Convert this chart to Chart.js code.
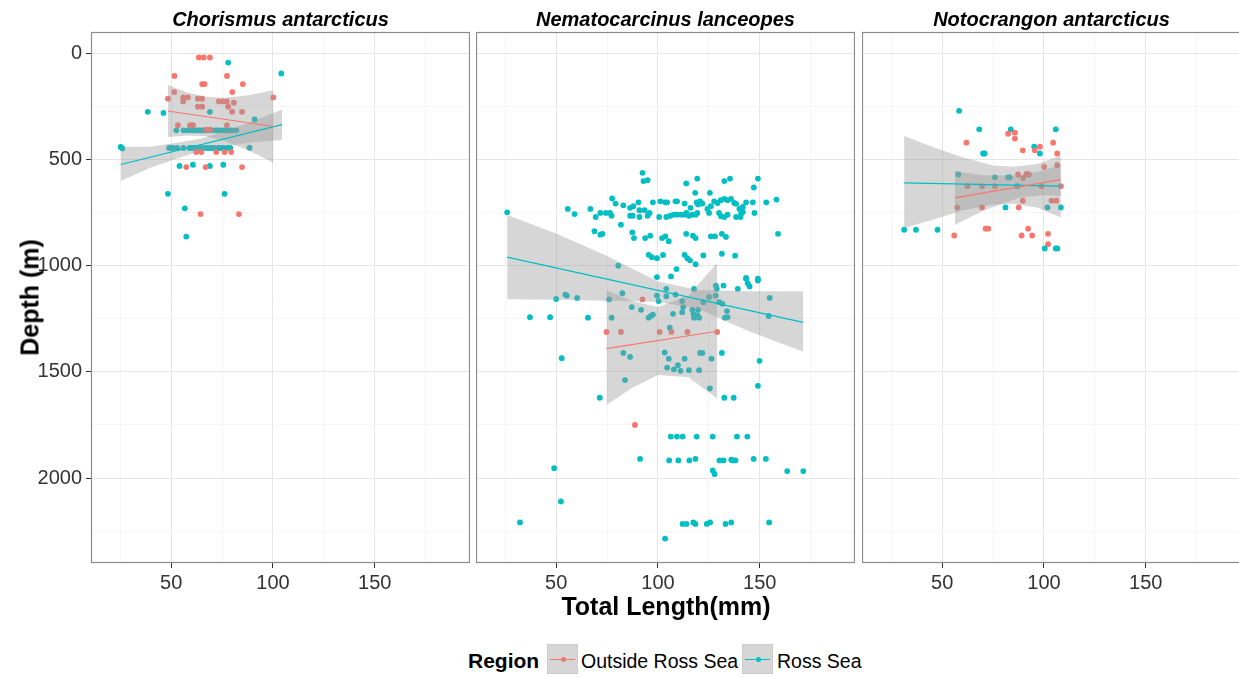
<!DOCTYPE html>
<html>
<head>
<meta charset="utf-8">
<script src="https://cdn.jsdelivr.net/npm/chart.js@4.4.1/dist/chart.umd.min.js"></script>
<style>
  body { margin: 0; overflow: hidden; background: #fff; font-family: "Liberation Sans", Arial, sans-serif; }
  #wrap { position: relative; width: 1239px; height: 677px; overflow: hidden; }
  canvas { position: absolute; }
  .txt { position: absolute; white-space: nowrap; color: #000; }
  .strip { top: 9px; width: 379px; text-align: center; font: italic bold 20px/20px "Liberation Sans"; }
  .key { position: absolute; top: 644px; width: 29px; height: 28px; background: #d6d6d6; border: 1px solid #cccccc; }
  .key .ln { position: absolute; left: 2px; right: 2px; top: 14px; height: 1.3px; }
  .key .dot { position: absolute; left: 12.5px; top: 12px; width: 5px; height: 5px; border-radius: 50%; }
</style>
</head>
<body>
<div id="wrap"></div>
<script>
const panelTitles = ['Chorismus antarcticus', 'Nematocarcinus lanceopes', 'Notocrangon antarcticus'];
const regions = ['Outside Ross Sea', 'Ross Sea'];
const regionColors = ['#F8766D', '#00BFC4'];
const xTicks = [50, 100, 150];
const xMinorTicks = [25, 75, 125, 175];
const yTicks = [0, 500, 1000, 1500, 2000];
const yMinorTicks = [250, 750, 1250, 1750, 2250];

// points: [total length (mm), depth (m)]
const chorOut = [
  [63.6,20],[66,20],[69,20],[51.6,107],[77.4,107],[65.2,145],[66.4,145],[85.2,145],
  [51.5,183],[80,183],[48.4,214],[55.9,208],[58.2,208],[55.9,227],[63.1,214],[65.2,214],
  [73.4,227],[75.4,227],[77.4,227],[80.8,233],[63.1,252],[65.2,252],[78,252],
  [80,276],[84.8,276],[100.2,208],[53.3,339],[59.3,339],[60.7,339],[67.2,360],[69.2,360],[77.4,339],
  [62.3,465],[64.8,465],[72.1,465],[76.2,465],[79.5,465],[57.4,536],[66.9,536],[84.8,536],
  [64.4,757],[83.3,757]
];
const chorRoss = [
  [78,44],[104.1,95],[38.5,276],[46.2,281],[69,276],[91,312],
  [52.5,363],[56,363],[58,363],[60,363],[61,363],[62,363],[63,363],[64,363],[65,363],[66,363],[67,363],
  [68,363],[70,363],[72,363],[73,363],[74,363],[76,363],[77,363],[78,363],[79,363],[80,363],[82,363],
  [49,446],[50,446],[51,446],[53,446],[56,446],[59,446],[60,446],[61,446],[62,446],[63,446],[64,446],[65,446],
  [67,446],[68,446],[69,446],[70,446],[71,446],[73,446],[74,446],[75,446],[76,446],[78,446],[79,446],
  [25.2,441],[26,448],[88.5,445],[54.1,531],[60.7,525],[69,531],[75.6,525],
  [48.4,662],[76.2,662],[56.7,730],[57.4,863]
];
const nemaOut = [
  [74.7,1312],[81.8,1312],[100.8,1312],[106.6,1312],[114.5,1312],[129.1,1312],[92.4,1159],[88.7,1750]
];
const nemaRoss = [
  [92.4,563],[94.9,598],[92.9,602],[113.9,613],[119.3,590],[132.6,602],[135.4,590],[149.1,590],[147.1,632],[118.3,657],[125.5,657],
  [55.7,733],[59,757],[66.8,733],[69.4,771],[71.7,752],[74.4,752],[76.4,752],[77.5,684],[79.2,708],[77.2,765],[83,716],
  [81.8,807],[86.3,728],[87.9,720],[90.4,702],[86.3,765],[87.6,765],[90.9,739],[93.4,739],[95.9,752],[94.9,765],[90.9,771],
  [97.5,702],[101.2,697],[103.6,702],[104.5,702],[108.6,697],[109.4,697],[113.1,708],[116,728],[119,702],[120.7,697],[121.8,708],[119.7,712],
  [100.6,771],[104.1,771],[106.1,765],[107.8,760],[109.4,760],[111.4,760],[113.1,760],[114,752],[115.2,765],[116.9,760],[118.5,760],[119.3,752],
  [124.3,733],[126,720],[125.1,752],[127.6,697],[129.3,705],[130.9,692],[132.6,686],[134.2,692],[135.9,686],[137.5,705],[138.4,709],
  [140,733],[141.7,724],[141.7,747],[140.8,757],[130,752],[132.6,771],[134.2,760],[131,767],[138.4,771],[140.5,771],
  [143.3,702],[146.6,702],[147.4,752],[153.2,702],[158.2,689],[159,850],
  [68.8,838],[71.7,854],[72.7,850],[87.4,843],[88.2,870],[93.7,870],[96.2,859],[102,870],[103.6,862],[105.3,885],[113.9,850],
  [117.2,859],[118.5,870],[126,862],[128,862],[131.4,850],[133.4,865],
  [95.4,949],[97,960],[99.5,965],[102.5,950],[113.1,949],[114.4,965],[115.7,975],[118.5,993],[122.3,952],[131.4,944],[137.9,953],
  [80.5,1000],[99.5,1054],[106.4,1051],[109.1,1016],[143.3,1058],[149.1,1061],[25.9,749],
  [54.5,1136],[55.2,1141],[60.3,1152],[65.6,1245],[52.7,1436],[76,1159],[82.5,1130],[77.2,1245],[87.1,1195],[91.7,1208],
  [95.4,1245],[96.5,1237],[97.5,1231],[99.5,1141],[100.3,1167],[104.1,1109],[104.1,1144],[108.6,1136],[107.4,1227],[105.8,1292],
  [111.9,1167],[112.4,1195],[111.9,1219],[117.7,1109],[116.9,1208],[117.4,1227],[117.7,1245],[119.7,1208],[120.2,1245],[119.3,1234],
  [122.3,1172],[125.1,1148],[128.4,1094],[128.9,1109],[128.4,1141],[132.2,1094],[130.1,1172],[131.7,1180],[133.9,1214],[132.9,1245],
  [134.2,1242],[139.2,1109],[143.3,1062],[144.1,1083],[145,1098],[149.1,1070],[154.9,1152],[154.4,1237],
  [83,1411],[86.3,1430],[103.3,1409],[105.3,1438],[104.5,1480],[107.8,1488],[109.8,1469],[111.1,1495],[113.1,1438],[115.2,1492],
  [120.2,1492],[120.7,1411],[121.8,1411],[126.3,1438],[131.4,1411],[149.9,1448],[149.1,1566],[83.8,1539],[125.5,1578],
  [71.4,1622],[132.6,1622],[137.2,1622],[50,1157],[37.1,1243],[47,1243],
  [106.3,1805],[109.3,1805],[112.1,1805],[119,1805],[126.9,1805],[138.8,1805],[143.9,1805],
  [91.2,1910],[105.5,1917],[110,1917],[115.4,1917],[118.4,1910],[130.2,1917],[132.2,1917],[136,1914],[136.8,1917],[138.1,1917],[147,1910],[153,1910],
  [49,1954],[126.9,1964],[127.8,1981],[163.5,1967],[171.4,1967],[52.3,2110],[32.2,2209],
  [112.1,2216],[114,2216],[117.4,2209],[118.4,2216],[124,2216],[125.6,2209],[133.2,2216],[136,2209],[154.6,2209],[103.5,2285]
];
const notoOut = [
  [82.4,379],[85.7,374],[85.7,402],[61.9,421],[89.6,457],[98,440],[95.5,457],[104.5,421],[106.5,472],[100.1,535],[106.5,527],
  [87.3,571],[89.8,587],[91.4,568],[92.6,571],[62.4,626],[69.6,626],[75.9,626],[98.8,626],[108.3,626],
  [57.4,726],[69.6,726],[87.6,726],[89.6,694],[103.7,694],[106.1,694],[55.9,858],[71.3,826],[72.6,826],
  [89,858],[92.2,826],[94.2,858],[102,850],[102,899]
];
const notoRoss = [
  [58.3,271],[68.2,358],[83.7,358],[105.8,358],[70.1,472],[70.9,472],[95.2,440],[98,472],[31.3,831],[37.1,831],[47.7,831],
  [57.9,571],[75.9,584],[82.4,584],[83.2,584],[86.8,626],[81.1,726],[101.7,726],[108.3,726],[100.4,919],[105.8,919],[106.6,919]
];

// fitted lines: end points [length, depth]
const chorOutFit = [[48.4,272],[100.2,345]];
const chorRossFit = [[25.2,524],[104.5,336]];
const nemaOutFit = [[74.7,1391],[129.1,1309]];
const nemaRossFit = [[25.9,960],[171.4,1267]];
const notoOutFit = [[56.2,681],[108.3,595]];
const notoRossFit = [[31.3,610],[108.3,626]];

// confidence bands: [length, shallow edge, deep edge]
const chorOutBand = [[48.4,150,394],[58,185,387],[67,205,391],[76,210,412],[88,198,458],[100.2,174,516]];
const chorRossBand = [[25.2,440,601],[40,440,538],[55,418,489],[65,401,459],[75,371,441],[90,321,419],[104.5,265,409]];
const nemaOutBand = [[74.7,1115,1656],[87,1167,1577],[100,1195,1515],[115,1140,1525],[129.1,987,1625]];
const nemaRossBand = [[25.9,762,1158],[50,849,1161],[75,955,1165],[100,1075,1170],[120,1115,1205],[145,1120,1310],[171.4,1120,1406]];
const notoOutBand = [[56.2,555,809],[70,575,741],[88,576,680],[100,551,667],[108.3,525,672]];
const notoRossBand = [[31.3,390,823],[45,440,785],[60,490,740],[75,528,712],[85,535,709],[97,522,727],[108.3,480,773]];

const panels = [
  { points: [chorOut, chorRoss], fits: [chorOutFit, chorRossFit], bands: [chorOutBand, chorRossBand] },
  { points: [nemaOut, nemaRoss], fits: [nemaOutFit, nemaRossFit], bands: [nemaOutBand, nemaRossBand] },
  { points: [notoOut, notoRoss], fits: [notoOutFit, notoRossFit], bands: [notoOutBand, notoRossBand] }
];

const X_MIN = 10.6, X_MAX = 196.8, Y_MIN = -100, Y_MAX = 2400;
const panelLeft = [91, 476, 862], panelW = 379, panelTop = 32, panelH = 531;
const MAJOR = '#e5e5e5', MINOR = '#f5f5f5';
const tickFont = { family: 'Liberation Sans', size: 20 };

const toXY = arr => arr.map(p => ({ x: p[0], y: p[1] }));

const framePlugin = {
  id: 'frame',
  afterDatasetsDraw(chart) {
    const { ctx, chartArea: a } = chart;
    ctx.save();
    ctx.strokeStyle = '#8a8a8a';
    ctx.lineWidth = 1.2;
    ctx.strokeRect(a.left + 0.5, a.top + 0.5, a.width - 1, a.height - 1);
    ctx.restore();
  }
};

const buildDatasets = (p) => {
  const ds = [];
  p.points.forEach((pts, r) => ds.push({
    type: 'scatter', data: toXY(pts), backgroundColor: regionColors[r],
    borderWidth: 0, pointRadius: 2.9, pointHoverRadius: 2.9, order: 3
  }));
  p.bands.forEach(b => {
    ds.push({ type: 'line', data: b.map(v => ({ x: v[0], y: v[1] })), borderWidth: 0,
      pointRadius: 0, fill: false, order: 2 });
    ds.push({ type: 'line', data: b.map(v => ({ x: v[0], y: v[2] })), borderWidth: 0,
      pointRadius: 0, fill: '-1', backgroundColor: 'rgba(153,153,153,0.4)', order: 2 });
  });
  p.fits.forEach((f, r) => ds.push({
    type: 'line', data: toXY(f), borderColor: regionColors[r], borderWidth: 1.2,
    pointRadius: 0, fill: false, order: 1
  }));
  return ds;
};

const wrap = document.getElementById('wrap');

panels.forEach((p, i) => {
  const yW = i === 0 ? 70 : 0;
  const cv = document.createElement('canvas');
  cv.width = yW + panelW;
  cv.height = 20 + panelH + 40;
  cv.style.left = (panelLeft[i] - yW) + 'px';
  cv.style.top = (panelTop - 20) + 'px';
  cv.style.width = cv.width + 'px';
  cv.style.height = cv.height + 'px';
  wrap.appendChild(cv);

  new Chart(cv, {
    type: 'scatter',
    data: { datasets: buildDatasets(p) },
    plugins: [framePlugin],
    options: {
      responsive: false, animation: false, devicePixelRatio: 1,
      layout: { autoPadding: false, padding: { top: 20, left: 0, right: 0, bottom: 0 } },
      plugins: { legend: { display: false }, tooltip: { enabled: false } },
      scales: {
        x: {
          type: 'linear', min: X_MIN, max: X_MAX,
          afterBuildTicks: s => { s.ticks = [...xTicks, ...xMinorTicks].sort((a, b) => a - b).map(v => ({ value: v })); },
          afterFit: s => { s.height = 40; },
          border: { display: false },
          grid: {
            lineWidth: 1,
            color: c => (c.tick && xTicks.includes(c.tick.value)) ? MAJOR : MINOR,
            tickColor: c => (c.tick && xTicks.includes(c.tick.value)) ? '#333333' : 'rgba(0,0,0,0)',
            tickLength: 5
          },
          ticks: {
            autoSkip: false, maxRotation: 0, padding: 3, color: '#333333', font: tickFont,
            callback: v => xTicks.includes(v) ? v : ''
          }
        },
        y: {
          type: 'linear', reverse: true, min: Y_MIN, max: Y_MAX,
          afterBuildTicks: s => { s.ticks = [...yTicks, ...yMinorTicks].sort((a, b) => a - b).map(v => ({ value: v })); },
          afterFit: s => { s.width = yW; },
          border: { display: false },
          grid: {
            lineWidth: 1,
            color: c => (c.tick && yTicks.includes(c.tick.value)) ? MAJOR : MINOR,
            tickColor: c => (c.tick && yTicks.includes(c.tick.value)) ? '#333333' : 'rgba(0,0,0,0)',
            tickLength: 5,
            drawTicks: i === 0
          },
          ticks: {
            display: i === 0, autoSkip: false, padding: 4, color: '#333333', font: tickFont,
            callback: v => yTicks.includes(v) ? v : ''
          }
        }
      }
    }
  });

  const st = document.createElement('div');
  st.className = 'txt strip';
  st.style.left = panelLeft[i] + 'px';
  st.textContent = panelTitles[i];
  wrap.appendChild(st);
});

const addText = (text, css) => {
  const d = document.createElement('div');
  d.className = 'txt';
  d.textContent = text;
  Object.assign(d.style, css);
  wrap.appendChild(d);
  return d;
};

addText('Total Length(mm)', { left: '466px', width: '400px', textAlign: 'center', top: '594px', font: 'bold 25px/25px "Liberation Sans"' });
addText('Depth (m)', { left: '-70px', width: '200px', textAlign: 'center', top: '285px', font: 'bold 25px/25px "Liberation Sans"', transform: 'rotate(-90deg)' });

// legend
addText('Region', { left: '468px', top: '650px', font: 'bold 21px/21px "Liberation Sans"' });
const keyLefts = [547, 742];
const labelLefts = [581, 777];
regions.forEach((r, k) => {
  const key = document.createElement('div');
  key.className = 'key';
  key.style.left = keyLefts[k] + 'px';
  key.innerHTML = '<div class="ln"></div><div class="dot"></div>';
  key.querySelector('.ln').style.background = regionColors[k];
  key.querySelector('.dot').style.background = regionColors[k];
  wrap.appendChild(key);
  addText(r, { left: labelLefts[k] + 'px', top: '651px', font: '19.5px/20px "Liberation Sans"' });
});
</script>
</body>
</html>
